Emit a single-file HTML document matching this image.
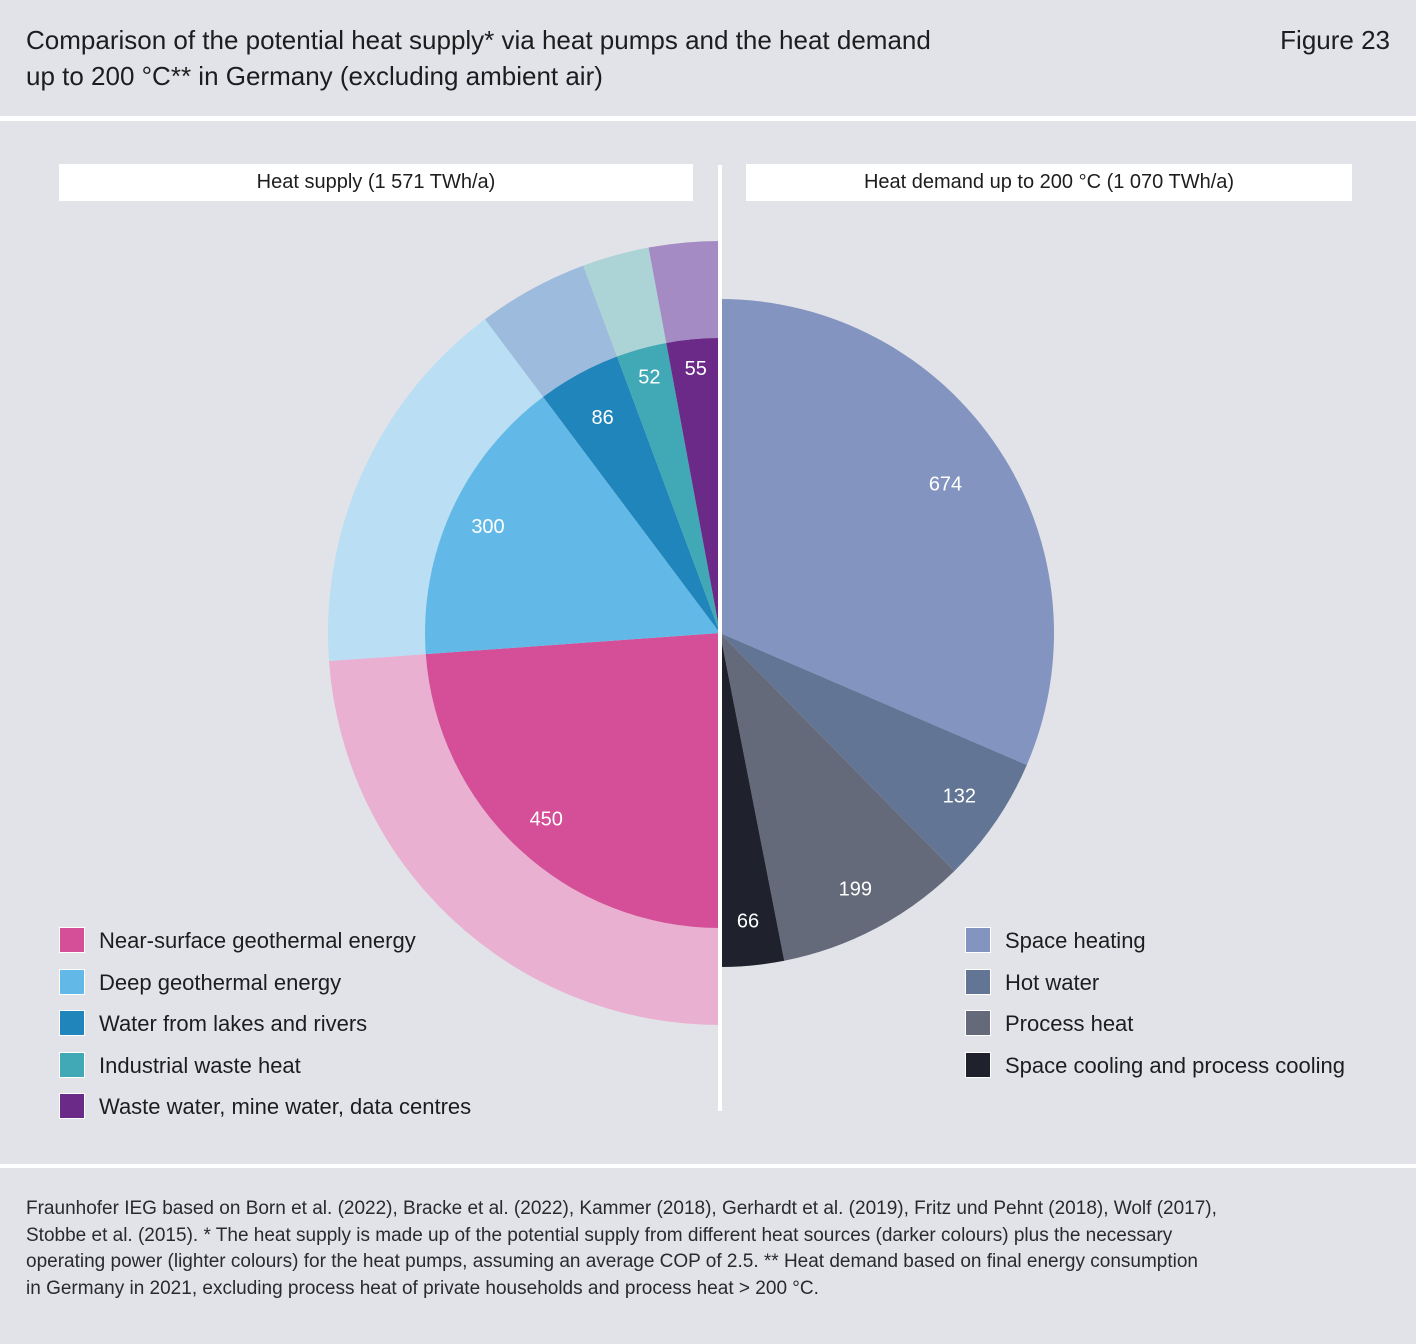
<!DOCTYPE html>
<html><head><meta charset="utf-8">
<style>
body{margin:0;width:1416px;height:1344px;background:#e2e3e8;font-family:"Liberation Sans",sans-serif;position:relative;overflow:hidden;color:#1d1d1f}
.t{position:absolute;white-space:nowrap}
</style></head><body>
<div class="t" style="left:26px;top:22px;font-size:26px;line-height:36px">Comparison of the potential heat supply* via heat pumps and the heat demand<br>up to 200 °C** in Germany (excluding ambient air)</div>
<div class="t" style="right:26px;top:22px;font-size:26px;line-height:36px">Figure 23</div>
<div style="position:absolute;left:0;top:116px;width:1416px;height:5px;background:#fff"></div>
<div style="position:absolute;left:0;top:1164px;width:1416px;height:4px;background:#fff"></div>
<div class="t" style="left:59px;top:164px;width:634px;height:37px;background:#fff;text-align:center;font-size:20px;line-height:37px">Heat supply (1 571 TWh/a)</div>
<div class="t" style="left:746px;top:164px;width:606px;height:37px;background:#fff;text-align:center;font-size:20px;line-height:37px">Heat demand up to 200 °C (1 070 TWh/a)</div>
<svg id="c" width="1416" height="1344" style="position:absolute;left:0;top:0"></svg>
<div id="leg"></div>
<div class="t" style="left:26px;top:1196px;font-size:19px;line-height:26.7px;color:#2a2a2e">Fraunhofer IEG based on Born et al. (2022), Bracke et al. (2022), Kammer (2018), Gerhardt et al. (2019), Fritz und Pehnt (2018), Wolf (2017),<br>Stobbe et al. (2015). * The heat supply is made up of the potential supply from different heat sources (darker colours) plus the necessary<br>operating power (lighter colours) for the heat pumps, assuming an average COP of 2.5. ** Heat demand based on final energy consumption<br>in Germany in 2021, excluding process heat of private households and process heat &gt; 200 °C.</div>
<script>
const supplyCats=["Near-surface geothermal energy","Deep geothermal energy","Water from lakes and rivers","Industrial waste heat","Waste water, mine water, data centres"];
const supplyVals=[450,300,86,52,55];
const demandCats=["Space heating","Hot water","Process heat","Space cooling and process cooling"];
const demandVals=[674,132,199,66];
const sDark=["#d44f97","#62b9e7","#1f85bb","#40a9b5","#6b2a87"];
const sLight=["#e9b0d2","#badef4","#9dbbdc","#acd3d6","#a48bc3"];
const dCol=["#8494c1","#627595","#656a7a","#1f212c"];
const NS="http://www.w3.org/2000/svg";
const svg=document.getElementById('c');
const cx=720,cy=633;
// angle measured clockwise from up (0 = up)
function pt(a,r){const t=a*Math.PI/180;return [cx+r*Math.sin(t),cy-r*Math.cos(t)];}
function arc(a0,a1,r0,r1){
  const [x0,y0]=pt(a0,r1),[x1,y1]=pt(a1,r1);const lg=(a1-a0)>180?1:0;
  if(r0===0)return `M${cx},${cy}L${x0},${y0}A${r1},${r1} 0 ${lg} 1 ${x1},${y1}Z`;
  const [x2,y2]=pt(a1,r0),[x3,y3]=pt(a0,r0);
  return `M${x0},${y0}A${r1},${r1} 0 ${lg} 1 ${x1},${y1}L${x2},${y2}A${r0},${r0} 0 ${lg} 0 ${x3},${y3}Z`;
}
function addPath(d,f,name){const p=document.createElementNS(NS,'path');p.setAttribute('d',d);p.setAttribute('fill',f);


svg.appendChild(p);}
function addText(x,y,s,name){const t=document.createElementNS(NS,'text');t.setAttribute('x',x);t.setAttribute('y',y);t.setAttribute('fill','#fff');t.setAttribute('font-size','20');t.setAttribute('text-anchor','middle');t.setAttribute('dominant-baseline','central');t.setAttribute('font-family','Liberation Sans, sans-serif');t.textContent=s;


svg.appendChild(t);}
// supply: left half, from bottom (180) clockwise to top (360)
const sTot=supplyVals.reduce((a,b)=>a+b,0);
let a=180;
supplyVals.forEach((v,i)=>{const da=v/sTot*180;
  addPath(arc(a,a+da,295,392),sLight[i],'supply-outer-'+i);
  addPath(arc(a,a+da,0,295),sDark[i],'supply-inner-'+i);
  const [lx,ly]=pt(a+da/2,i<2?255:(i===2?245:265));addText(lx,ly,v,'supply-label-'+i);
  a+=da;});
const dTot=demandVals.reduce((a,b)=>a+b,0);
a=0;
demandVals.forEach((v,i)=>{const da=v/dTot*180;
  addPath(arc(a,a+da,0,334),dCol[i],'demand-slice-'+i);
  const [lx,ly]=pt(a+da/2,i===0?270:290);addText(lx,ly,v,'demand-label-'+i);
  a+=da;});
const ln=document.createElementNS(NS,'rect');ln.setAttribute('x',718);ln.setAttribute('y',165);ln.setAttribute('width',4);ln.setAttribute('height',946);ln.setAttribute('fill','#fff');


svg.appendChild(ln);
const leg=document.getElementById('leg');
function legend(x,y,c,txt,name){const d=document.createElement('div');d.className='t';d.style.left=x+'px';d.style.top=y+'px';d.style.fontSize='22px';d.style.lineHeight='26px';
d.innerHTML=`<span style="display:inline-block;width:24px;height:24px;background:${c};border:1px solid #fff;vertical-align:-5px;margin-right:14px"></span>${txt}`;


leg.appendChild(d);}
supplyCats.forEach((c,i)=>legend(59,927+i*41.5,sDark[i],c,'legend-supply-'+i));
demandCats.forEach((c,i)=>legend(965,927+i*41.5,dCol[i],c,'legend-demand-'+i));
</script>
</body></html>
